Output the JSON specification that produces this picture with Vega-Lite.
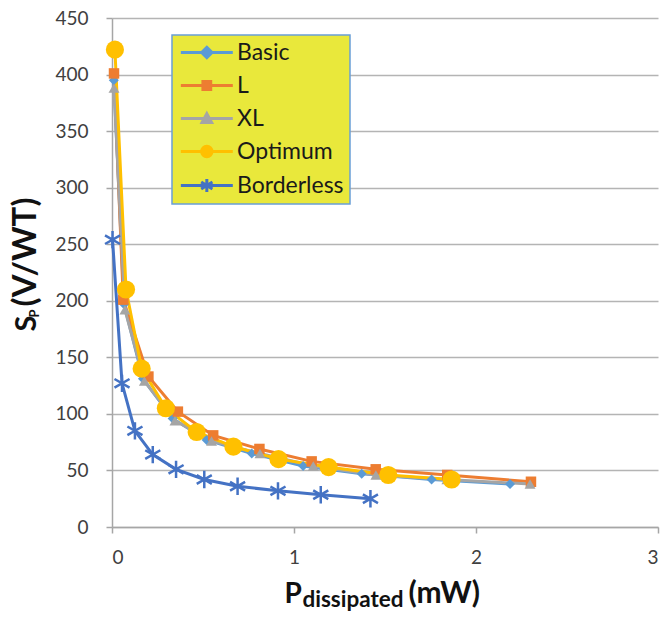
{
  "$schema": "https://vega.github.io/schema/vega-lite/v6.json",
  "width": 546,
  "height": 509,
  "autosize": "none",
  "padding": {"left": 112, "top": 18, "right": 10, "bottom": 90},
  "background": "white",
  "config": {
    "view": {"stroke": null},
    "font": "Lato",
    "axis": {
      "labelFont": "Lato", "labelFontSize": 19, "labelColor": "#404040",
      "titleFont": "Lato", "titleFontWeight": "bold", "titleColor": "#111111",
      "domainColor": "#a6a6a6", "domainWidth": 1.5, "tickColor": "#a6a6a6", "tickWidth": 1.5,
      "gridColor": "#b4b4b4", "gridWidth": 1.5
    },
    "legend": {
      "orient": "none", "legendX": 60, "legendY": 17,
      "fillColor": "#e9e83b", "strokeColor": "#6a9fd6", "strokeWidth": 1.5,
      "padding": 6, "labelFont": "Lato", "labelFontSize": 23, "labelColor": "#1a1a1a",
      "symbolSize": 300, "symbolStrokeWidth": 3, "labelOffset": 36, "rowPadding": 9,
      "symbolOpacity": 1
    }
  },
  "data": {"values": [
    {"series": "Basic", "P": 0.01, "S": 395},
    {"series": "Basic", "P": 0.066, "S": 197},
    {"series": "Basic", "P": 0.17, "S": 131},
    {"series": "Basic", "P": 0.333, "S": 96},
    {"series": "Basic", "P": 0.52, "S": 77},
    {"series": "Basic", "P": 0.768, "S": 65},
    {"series": "Basic", "P": 1.05, "S": 54},
    {"series": "Basic", "P": 1.372, "S": 47},
    {"series": "Basic", "P": 1.756, "S": 42},
    {"series": "Basic", "P": 2.187, "S": 38},
    {"series": "L", "P": 0.011, "S": 401},
    {"series": "L", "P": 0.062, "S": 201},
    {"series": "L", "P": 0.2, "S": 133},
    {"series": "L", "P": 0.362, "S": 102},
    {"series": "L", "P": 0.556, "S": 81},
    {"series": "L", "P": 0.81, "S": 69},
    {"series": "L", "P": 1.097, "S": 58},
    {"series": "L", "P": 1.449, "S": 51},
    {"series": "L", "P": 1.842, "S": 46},
    {"series": "L", "P": 2.302, "S": 40},
    {"series": "XL", "P": 0.011, "S": 388},
    {"series": "XL", "P": 0.071, "S": 192},
    {"series": "XL", "P": 0.178, "S": 129},
    {"series": "XL", "P": 0.346, "S": 94},
    {"series": "XL", "P": 0.547, "S": 76},
    {"series": "XL", "P": 0.813, "S": 65},
    {"series": "XL", "P": 1.106, "S": 54},
    {"series": "XL", "P": 1.45, "S": 46},
    {"series": "XL", "P": 1.84, "S": 42},
    {"series": "XL", "P": 2.297, "S": 38},
    {"series": "Optimum", "P": 0.016, "S": 422},
    {"series": "Optimum", "P": 0.077, "S": 210},
    {"series": "Optimum", "P": 0.163, "S": 140},
    {"series": "Optimum", "P": 0.296, "S": 105},
    {"series": "Optimum", "P": 0.465, "S": 84},
    {"series": "Optimum", "P": 0.667, "S": 71},
    {"series": "Optimum", "P": 0.915, "S": 60},
    {"series": "Optimum", "P": 1.19, "S": 53},
    {"series": "Optimum", "P": 1.518, "S": 46},
    {"series": "Optimum", "P": 1.866, "S": 42},
    {"series": "Borderless", "P": 0.003, "S": 254},
    {"series": "Borderless", "P": 0.055, "S": 127},
    {"series": "Borderless", "P": 0.126, "S": 85},
    {"series": "Borderless", "P": 0.224, "S": 64},
    {"series": "Borderless", "P": 0.352, "S": 51},
    {"series": "Borderless", "P": 0.507, "S": 42},
    {"series": "Borderless", "P": 0.69, "S": 36},
    {"series": "Borderless", "P": 0.912, "S": 32},
    {"series": "Borderless", "P": 1.147, "S": 28.5},
    {"series": "Borderless", "P": 1.42, "S": 25}
  ]},
  "resolve": {
    "axis": {"x": "independent", "y": "independent"},
    "scale": {"fill": "independent", "stroke": "independent", "shape": "independent"}
  },
  "layer": [
    {
      "mark": {"type": "line", "strokeWidth": 3},
      "encoding": {
        "x": {"field": "P", "type": "quantitative",
          "scale": {"domain": [0, 3], "nice": false, "zero": true},
          "axis": {"orient": "bottom", "values": [0, 1, 2, 3], "format": "d", "grid": false, "tickSize": 6, "labelPadding": 15,
            "title": "P", "titleFontSize": 28, "titleX": 172, "titleY": 75, "titleAlign": "left", "titleBaseline": "alphabetic"}},
        "y": {"field": "S", "type": "quantitative",
          "scale": {"domain": [0, 450], "nice": false},
          "axis": {"orient": "left", "values": [0, 50, 100, 150, 200, 250, 300, 350, 400, 450], "grid": true, "tickSize": 6, "labelPadding": 18,
            "title": "S", "titleFontSize": 29, "titleAngle": 270, "titleX": -77, "titleY": 313, "titleAlign": "left", "titleBaseline": "alphabetic"}},
        "color": {"field": "series", "type": "nominal",
          "scale": {"domain": ["Basic", "L", "XL", "Optimum", "Borderless"], "range": ["#5b9bd5", "#ed7d31", "#a5a5a5", "#ffc000", "#4472c4"]},
          "legend": null}
      }
    },
    {
      "transform": [{"filter": "datum.series === 'Basic'"}],
      "mark": {"type": "point", "filled": true, "opacity": 1, "shape": "diamond", "size": 100},
      "encoding": {
        "x": {"field": "P", "type": "quantitative",
          "axis": {"orient": "bottom", "labels": false, "ticks": false, "domain": false, "grid": false,
            "title": "dissipated", "titleFontSize": 22.5, "titleX": 190, "titleY": 79, "titleAlign": "left", "titleBaseline": "alphabetic"}},
        "y": {"field": "S", "type": "quantitative",
          "axis": {"orient": "left", "labels": false, "ticks": false, "domain": false, "grid": false,
            "title": "P", "titleFontSize": 13, "titleAngle": 270, "titleX": -74, "titleY": 299, "titleAlign": "left", "titleBaseline": "alphabetic"}},
        "color": {"field": "series", "type": "nominal", "legend": null}
      }
    },
    {
      "transform": [{"filter": "datum.series === 'L'"}],
      "mark": {"type": "point", "filled": true, "opacity": 1, "shape": "square", "size": 110},
      "encoding": {
        "x": {"field": "P", "type": "quantitative",
          "axis": {"orient": "bottom", "labels": false, "ticks": false, "domain": false, "grid": false,
            "title": "(mW)", "titleFontSize": 30, "titleX": 296, "titleY": 75, "titleAlign": "left", "titleBaseline": "alphabetic"}},
        "y": {"field": "S", "type": "quantitative",
          "axis": {"orient": "left", "labels": false, "ticks": false, "domain": false, "grid": false,
            "title": "(V/WT)", "titleFontSize": 33, "titleAngle": 270, "titleX": -77, "titleY": 288, "titleAlign": "left", "titleBaseline": "alphabetic"}},
        "color": {"field": "series", "type": "nominal", "legend": null}
      }
    },
    {
      "transform": [{"filter": "datum.series === 'XL'"}],
      "mark": {"type": "point", "filled": true, "opacity": 1, "shape": "triangle-up", "size": 120},
      "encoding": {
        "x": {"field": "P", "type": "quantitative", "axis": null},
        "y": {"field": "S", "type": "quantitative", "axis": null},
        "color": {"field": "series", "type": "nominal", "legend": null}
      }
    },
    {
      "transform": [{"filter": "datum.series === 'Optimum'"}],
      "mark": {"type": "point", "filled": true, "opacity": 1, "shape": "circle", "size": 330},
      "encoding": {
        "x": {"field": "P", "type": "quantitative", "axis": null},
        "y": {"field": "S", "type": "quantitative", "axis": null},
        "color": {"field": "series", "type": "nominal", "legend": null}
      }
    },
    {
      "transform": [{"filter": "datum.series === 'Borderless'"}],
      "mark": {"type": "point", "filled": false, "opacity": 1, "strokeWidth": 2.5, "size": 300,
        "shape": "M0,-1L0,1M-0.87,-0.5L0.87,0.5M-0.87,0.5L0.87,-0.5"},
      "encoding": {
        "x": {"field": "P", "type": "quantitative", "axis": null},
        "y": {"field": "S", "type": "quantitative", "axis": null},
        "color": {"field": "series", "type": "nominal", "legend": null}
      }
    },
    {
      "transform": [{"filter": "datum.S < 0"}],
      "mark": {"type": "point", "filled": true, "opacity": 1, "strokeWidth": 3, "size": 300},
      "encoding": {
        "fill": {"field": "series", "type": "nominal",
          "scale": {"domain": ["Basic", "L", "XL", "Optimum", "Borderless"], "range": ["#5b9bd5", "#ed7d31", "#a5a5a5", "#ffc000", "#4472c4"]},
          "legend": {"title": null}},
        "stroke": {"field": "series", "type": "nominal",
          "scale": {"domain": ["Basic", "L", "XL", "Optimum", "Borderless"], "range": ["#5b9bd5", "#ed7d31", "#a5a5a5", "#ffc000", "#4472c4"]},
          "legend": {"title": null}},
        "shape": {"field": "series", "type": "nominal",
          "scale": {"domain": ["Basic", "L", "XL", "Optimum", "Borderless"],
            "range": [
              "M-1,0L5,0M2,-0.6L2.6,0L2,0.6L1.4,0Z",
              "M-1,0L5,0M1.55,-0.45H2.45V0.45H1.55Z",
              "M-1,0L5,0M2,-0.55L2.55,0.45H1.45Z",
              "M-1,0L5,0M1.4,0A0.6,0.6,0,1,0,2.6,0A0.6,0.6,0,1,0,1.4,0Z",
              "M-1,0L5,0M2,-0.75L2,0.75M1.35,-0.4L2.65,0.4M1.35,0.4L2.65,-0.4"
            ]},
          "legend": {"title": null}}
      }
    }
  ]
}
